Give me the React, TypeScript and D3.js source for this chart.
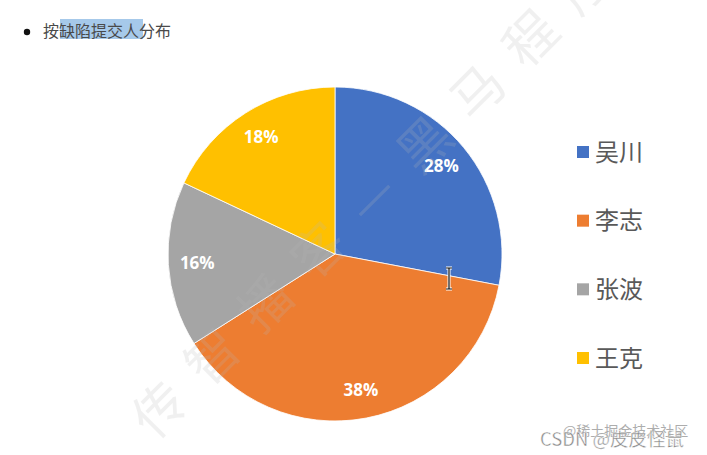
import React from "react";
import * as d3 from "d3";

const names = ["吴川", "李志", "张波", "王克"];
const shares = [28, 38, 16, 18];
const colors = ["#4472C4", "#ED7D31", "#A5A5A5", "#FFC000"];
const title = "按缺陷提交人分布";
const watermarkChars = ["传", "智", "播", "客", "—", "黑", "马", "程", "序"];

const W = 707;
const H = 455;
const cx = 335;
const cy = 254;
const R = 167;

export default function App() {
  const pie = d3.pie<number>().sort(null).value((d) => d);
  const arcs = pie(shares);
  const arc = d3.arc<d3.PieArcDatum<number>>().innerRadius(0).outerRadius(R);
  const labelArc = d3.arc<d3.PieArcDatum<number>>().innerRadius(138).outerRadius(138);
  const legendY = d3.scalePoint<string>().domain(names).range([152, 358]);

  return (
    <svg
      width={W}
      height={H}
      style={{ position: "absolute", left: 0, top: 0, background: "#fff" }}
    >
      <rect x={0} y={0} width={W} height={H} fill="#fff" />
      {/* title */}
      <circle cx={27} cy={32} r={3.2} fill="#111" />
      <rect x={60} y={19} width={83} height={20} fill="#a6c9ea" />
      <text
        x={43}
        y={37}
        fontSize={16}
        fill="#4a4a4a"
        fontFamily="'Noto Sans CJK SC', sans-serif"
      >
        {title}
      </text>

      {/* pie */}
      <g transform={`translate(${cx},${cy})`}>
        {arcs.map((a, i) => (
          <path key={i} d={arc(a) || ""} fill={colors[i]} stroke="#fff" strokeWidth={0.8} />
        ))}
        {arcs.map((a, i) => {
          const [x, y] = labelArc.centroid(a);
          return (
            <text
              key={"l" + i}
              x={x}
              y={y}
              dy="0.35em"
              textAnchor="middle"
              fontSize={17}
              fontWeight="bold"
              fill="#fff"
              fontFamily="'Open Sans', 'DejaVu Sans', sans-serif"
            >
              {shares[i]}%
            </text>
          );
        })}
      </g>

      {/* legend */}
      {names.map((n, i) => {
        const y = legendY(n) as number;
        return (
          <g key={"g" + i}>
            <rect x={577} y={y - 6} width={12} height={12} fill={colors[i]} />
            <text
              x={595}
              y={y}
              dy="0.36em"
              fontSize={24}
              fill="#595959"
              fontFamily="'Noto Sans CJK SC', sans-serif"
            >
              {n}
            </text>
          </g>
        );
      })}

      {/* faint diagonal watermark */}
      {watermarkChars.map((c, i) => {
        const x = 160 + i * 53;
        const y = 410 - i * 53;
        return (
          <text
            key={"w" + i}
            x={x}
            y={y}
            dy="0.35em"
            textAnchor="middle"
            fontSize={52}
            fill="#b8b8b8"
            opacity={0.2}
            transform={`rotate(-45 ${x} ${y})`}
            fontFamily="'Noto Sans CJK SC', sans-serif"
          >
            {c}
          </text>
        );
      })}

      {/* text cursor */}
      <g stroke="#fff" strokeWidth={3}>
        <path d="M446,268 L452,268 M449,268 L449,289 M446,289 L452,289" fill="none" />
      </g>
      <g stroke="#111" strokeWidth={1.2}>
        <path d="M446,268 L452,268 M449,268 L449,289 M446,289 L452,289" fill="none" />
      </g>

      {/* corner watermark */}
      <text
        x={563}
        y={436}
        fontSize={14}
        fill="#999"
        opacity={0.8}
        fontFamily="'Noto Sans CJK SC', sans-serif"
      >
        @稀土掘金技术社区
      </text>
      <text
        x={540}
        y={446}
        fontSize={18.5}
        fill="#888"
        stroke="#fff"
        strokeWidth={0.4}
        fontFamily="'Noto Sans CJK SC', sans-serif"
      >
        CSDN @皮皮怪鼠
      </text>
    </svg>
  );
}
